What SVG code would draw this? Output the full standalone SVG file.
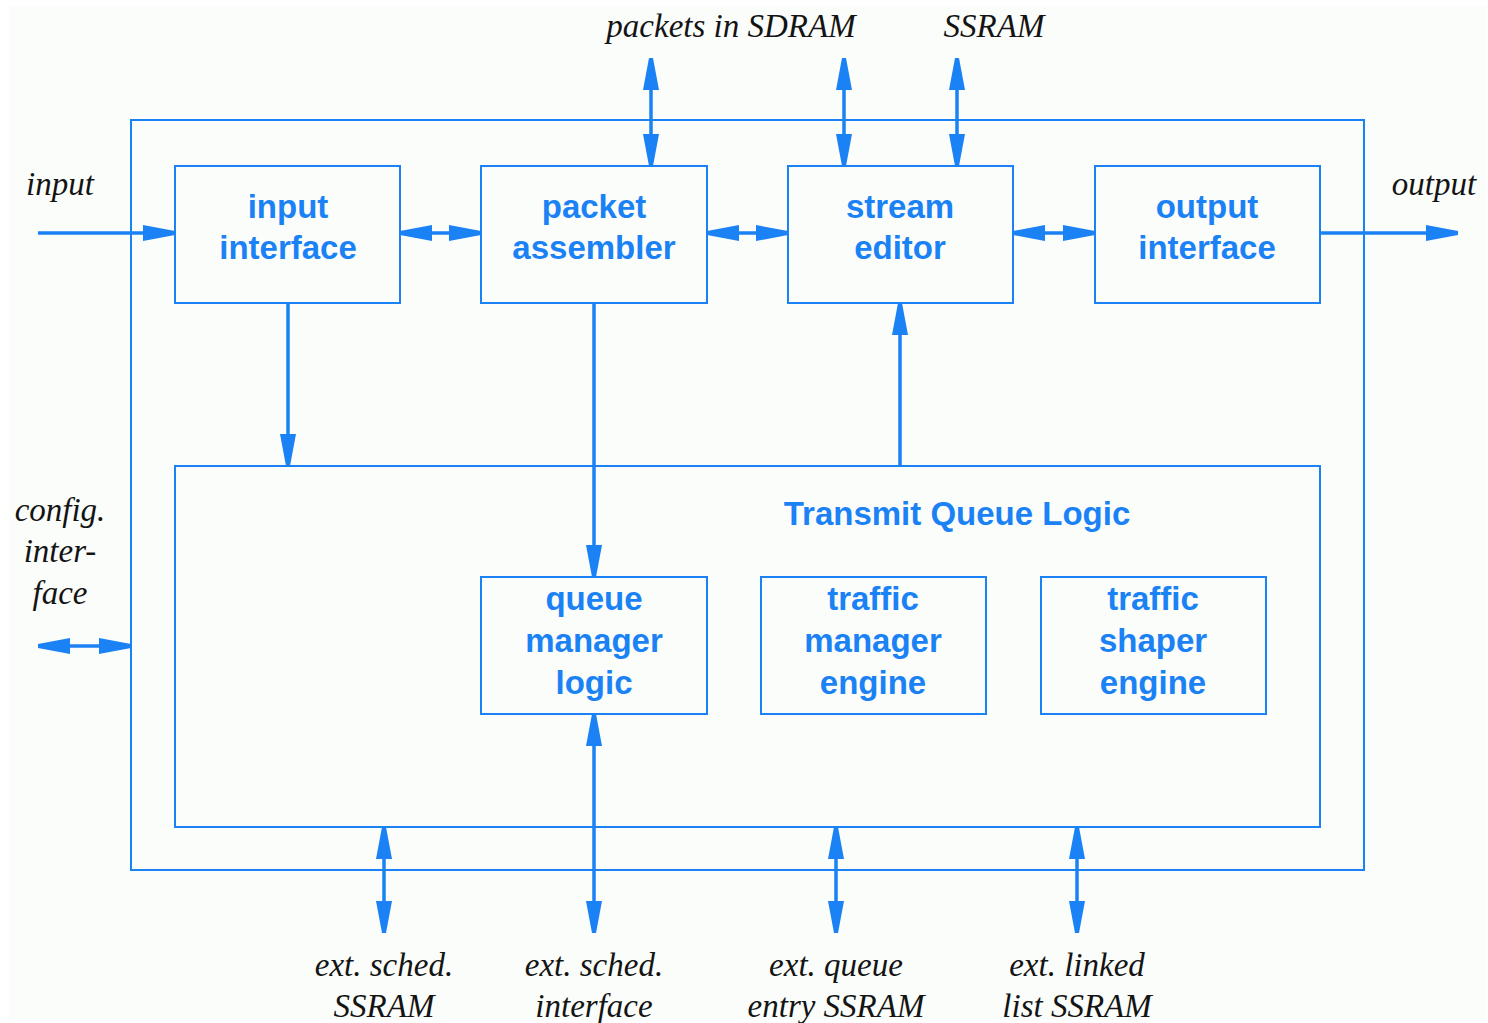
<svg xmlns="http://www.w3.org/2000/svg" width="1488" height="1023" viewBox="0 0 1488 1023">
  <style>
    .box { fill: none; stroke: #1a82f5; stroke-width: 2; }
    .lbl { font-family: "Liberation Sans", Arial, sans-serif; font-weight: bold; font-size: 33px; fill: #1a82f5; text-anchor: middle; }
    .ext { font-family: "Liberation Serif", "Times New Roman", serif; font-style: italic; font-size: 33px; fill: #141414; text-anchor: middle; }
    .wire { fill: none; stroke: #1a82f5; stroke-width: 3.5; }
    .one { marker-end: url(#head); }
    .two { marker-start: url(#head); marker-end: url(#head); }
  </style>
  <defs>
    <!-- blunt-tipped arrowhead, 32 long, 16 wide -->
    <marker id="head" markerUnits="userSpaceOnUse" markerWidth="33" markerHeight="17" refX="32" refY="8" orient="auto-start-reverse" viewBox="0 0 33 17">
      <path d="M0,0 L32,6 L32,10 L0,16 z" fill="#1a82f5"/>
    </marker>
  </defs>

  <!-- page -->
  <rect x="0" y="0" width="1488" height="1023" fill="#ffffff"/>
  <rect x="9" y="6" width="1477" height="1014" fill="#fbfdfb"/>

  <!-- enclosing chip outline -->
  <g id="chip">
    <rect class="box" x="131" y="120" width="1233" height="750"/>
  </g>

  <g id="input-interface">
    <rect class="box" x="175" y="166" width="225" height="137"/>
    <text class="lbl" x="288" y="218">input</text>
    <text class="lbl" x="288" y="259">interface</text>
  </g>

  <g id="packet-assembler">
    <rect class="box" x="481" y="166" width="226" height="137"/>
    <text class="lbl" x="594" y="218">packet</text>
    <text class="lbl" x="594" y="259">assembler</text>
  </g>

  <g id="stream-editor">
    <rect class="box" x="788" y="166" width="225" height="137"/>
    <text class="lbl" x="900" y="218">stream</text>
    <text class="lbl" x="900" y="259">editor</text>
  </g>

  <g id="output-interface">
    <rect class="box" x="1095" y="166" width="225" height="137"/>
    <text class="lbl" x="1207" y="218">output</text>
    <text class="lbl" x="1207" y="259">interface</text>
  </g>

  <g id="transmit-queue-logic">
    <rect class="box" x="175" y="466" width="1145" height="361"/>
    <text class="lbl" x="957" y="525">Transmit Queue Logic</text>
  </g>

  <g id="queue-manager-logic">
    <rect class="box" x="481" y="577" width="226" height="137"/>
    <text class="lbl" x="594" y="610">queue</text>
    <text class="lbl" x="594" y="652">manager</text>
    <text class="lbl" x="594" y="694">logic</text>
  </g>

  <g id="traffic-manager-engine">
    <rect class="box" x="761" y="577" width="225" height="137"/>
    <text class="lbl" x="873" y="610">traffic</text>
    <text class="lbl" x="873" y="652">manager</text>
    <text class="lbl" x="873" y="694">engine</text>
  </g>

  <g id="traffic-shaper-engine">
    <rect class="box" x="1041" y="577" width="225" height="137"/>
    <text class="lbl" x="1153" y="610">traffic</text>
    <text class="lbl" x="1153" y="652">shaper</text>
    <text class="lbl" x="1153" y="694">engine</text>
  </g>

  <!-- external port labels -->
  <g id="ports">
    <text class="ext" x="60" y="195">input</text>
    <text class="ext" x="1434" y="195">output</text>
    <text class="ext" x="731" y="37">packets in SDRAM</text>
    <text class="ext" x="994" y="37">SSRAM</text>
    <text class="ext" x="60" y="521">config.</text>
    <text class="ext" x="60" y="562">inter-</text>
    <text class="ext" x="60" y="604">face</text>
    <text class="ext" x="384" y="976">ext. sched.</text>
    <text class="ext" x="384" y="1017">SSRAM</text>
    <text class="ext" x="594" y="976">ext. sched.</text>
    <text class="ext" x="594" y="1017">interface</text>
    <text class="ext" x="836" y="976">ext. queue</text>
    <text class="ext" x="836" y="1017">entry SSRAM</text>
    <text class="ext" x="1077" y="976">ext. linked</text>
    <text class="ext" x="1077" y="1017">list SSRAM</text>
  </g>

  <g id="connectors">
    <!-- datapath -->
    <line class="wire one" x1="38" y1="233" x2="175" y2="233"/>
    <line class="wire two" x1="400" y1="233" x2="481" y2="233"/>
    <line class="wire two" x1="707" y1="233" x2="788" y2="233"/>
    <line class="wire two" x1="1013" y1="233" x2="1095" y2="233"/>
    <line class="wire one" x1="1320" y1="233" x2="1458" y2="233"/>
    <!-- memories above -->
    <line class="wire two" x1="651" y1="58" x2="651" y2="166"/>
    <line class="wire two" x1="844" y1="58" x2="844" y2="166"/>
    <line class="wire two" x1="957" y1="58" x2="957" y2="166"/>
    <!-- into and out of the queue logic -->
    <line class="wire one" x1="288" y1="303" x2="288" y2="466"/>
    <line class="wire one" x1="594" y1="303" x2="594" y2="577"/>
    <line class="wire one" x1="900" y1="466" x2="900" y2="303"/>
    <!-- config interface -->
    <line class="wire two" x1="38" y1="646" x2="131" y2="646"/>
    <!-- memories below -->
    <line class="wire two" x1="384" y1="827" x2="384" y2="933"/>
    <line class="wire two" x1="594" y1="714" x2="594" y2="933"/>
    <line class="wire two" x1="836" y1="827" x2="836" y2="933"/>
    <line class="wire two" x1="1077" y1="827" x2="1077" y2="933"/>
  </g>
</svg>
